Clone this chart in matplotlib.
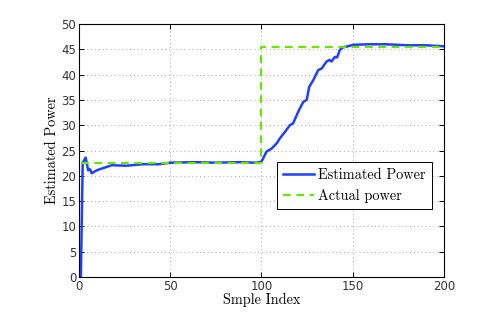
import numpy as np
import matplotlib.pyplot as plt

# Data --------------------------------------------------------------------
est_idx = [1, 2, 3, 3.6, 5, 6, 7, 9.7, 13, 18, 26, 35, 44, 50, 63, 75, 88, 97, 100,
           102.8, 105.6, 108.3, 110.1, 112.9, 115.6, 117.4, 120.2, 122.9, 124.8,
           126.2, 128.4, 131.1, 133, 135.7, 137.2, 138.4, 140.3, 141.5, 143,
           144.8, 148.5, 150.3, 160, 168, 180, 190, 200]
est_power = [0, 22.6, 23.2, 23.6, 21.1, 21.3, 20.5, 21.1, 21.5, 22.1, 22.0, 22.3,
             22.3, 22.6, 22.7, 22.6, 22.7, 22.6, 22.8,
             24.8, 25.4, 26.4, 27.4, 28.7, 30.0, 30.4, 32.7, 34.6, 35.0,
             37.6, 38.9, 40.9, 41.2, 42.6, 42.9, 42.6, 43.5, 43.4, 44.9,
             45.4, 45.7, 45.9, 46.0, 46.0, 45.8, 45.8, 45.6]

act_idx = [1, 100, 100, 200]
act_power = [22.6, 22.6, 45.4, 45.4]

# Plot --------------------------------------------------------------------
fig = plt.figure(figsize=(4.91, 3.12), dpi=100)
ax = fig.add_axes([0.161, 0.112, 0.743, 0.811])

ax.plot(est_idx, est_power, color='#1f3fff', lw=1.8, label='Estimated Power')
ax.plot(act_idx, act_power, color='#66e600', lw=1.6, ls=(0, (3.5, 2.5)),
        label='Actual power')

ax.set_xlim(0, 200)
ax.set_ylim(0, 50)
ax.set_xticks(np.arange(0, 201, 50))
ax.set_yticks(np.arange(0, 51, 5))

ax.grid(True, ls=(0, (1, 3)), color='#aaaaaa', lw=0.7)
ax.tick_params(direction='in', top=True, right=True, length=3.5, width=0.7,
               labelsize=8.5, labelcolor='#333333', pad=2)
for lab in ax.get_xticklabels() + ax.get_yticklabels():
    lab.set_family('DejaVu Sans')
for sp in ax.spines.values():
    sp.set_linewidth(0.8)

ax.set_xlabel('Smple Index', family='cmr10', fontsize=10.3, labelpad=0)
ax.set_ylabel('Estimated Power', family='cmr10', fontsize=10.3, labelpad=2)

leg = ax.legend(loc='lower right', bbox_to_anchor=(0.967, 0.269),
                prop={'family': 'cmr10', 'size': 10.3}, fancybox=False,
                edgecolor='black', framealpha=1, handlelength=2.2,
                handletextpad=0.3, borderpad=0.42, labelspacing=0.5,
                borderaxespad=0)
leg.get_frame().set_linewidth(0.7)

fig.savefig('out.png', dpi=100)
